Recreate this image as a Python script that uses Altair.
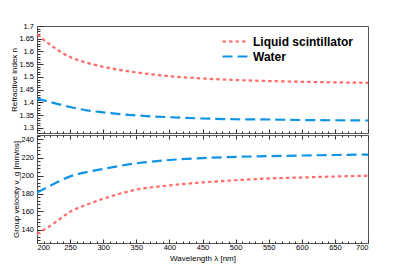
import altair as alt
import pandas as pd

# ---------------- data ----------------
wavelength = [200, 225, 250, 275, 300, 350, 400, 450, 500, 550, 600, 650, 700]
n_ls = [1.667, 1.617, 1.578, 1.556, 1.540, 1.518, 1.503, 1.494, 1.488, 1.484, 1.481, 1.479, 1.477]
n_water = [1.415, 1.398, 1.382, 1.369, 1.361, 1.349, 1.342, 1.337, 1.334, 1.333, 1.331, 1.330, 1.329]
vg_ls = [134.9, 146.5, 159.7, 167.6, 174.1, 184.3, 189.0, 192.3, 194.7, 196.7, 197.8, 198.9, 199.8]
vg_water = [181.0, 190.5, 199.0, 203.8, 207.3, 213.5, 217.2, 219.4, 220.7, 221.5, 222.2, 222.8, 223.3]
series = ["Liquid scintillator", "Water"]

# axis tick values
x_major = list(range(200, 701, 50))
x_minor = [v for v in range(200, 701, 10) if v % 50]
n_major = [round(1.30 + 0.05 * i, 2) for i in range(9)]
n_minor = [round(1.28 + 0.01 * i, 2) for i in range(43) if round(1.28 + 0.01 * i, 2) not in n_major]
v_major = [140, 160, 180, 200, 220, 240]
v_minor = [v for v in range(125, 246) if v % 4 == 0 and v % 20]

rows = []
for i, lam in enumerate(wavelength):
    rows.append({"wavelength": lam, "series": series[0], "n": n_ls[i], "vg": vg_ls[i]})
    rows.append({"wavelength": lam, "series": series[1], "n": n_water[i], "vg": vg_water[i]})
df = pd.DataFrame(rows)

FONT = "Liberation Sans"
colors = ["#ff6b6b", "#1193e6"]
dashes = [[3.5, 3], [10, 5]]

xscale = alt.Scale(domain=[200, 700], nice=False, zero=False)
nscale = alt.Scale(domain=[1.28, 1.7], nice=False, zero=False)
vscale = alt.Scale(domain=[125, 245], nice=False, zero=False)


def tick_axis(values, size, orient, **kw):
    return alt.Axis(values=values, tickSize=size, offset=-size, orient=orient,
                    domain=False, grid=False, ticks=True, tickColor="#333",
                    tickWidth=1, **kw)


legend = alt.Legend(title=None, orient="none", legendX=192, legendY=9,
                    symbolType="M-2.6,0H2.6", symbolSize=100, symbolStrokeWidth=2.2,
                    labelFont=FONT, labelFontSize=12, labelFontWeight="bold",
                    labelColor="black", labelOffset=11, rowPadding=2, padding=0)

color_top = alt.Color("series:N", scale=alt.Scale(domain=series, range=colors), legend=legend)
dash_top = alt.StrokeDash("series:N", scale=alt.Scale(domain=series, range=dashes), legend=legend)
color_bot = alt.Color("series:N", scale=alt.Scale(domain=series, range=colors), legend=None)
dash_bot = alt.StrokeDash("series:N", scale=alt.Scale(domain=series, range=dashes), legend=None)

line = dict(strokeWidth=2.2, interpolate="monotone")

# ---------------- top panel: refractive index ----------------
base = alt.Chart(df)
top_lines = base.mark_line(**line).encode(
    x=alt.X("wavelength:Q", scale=xscale,
            axis=tick_axis(x_major, 4, "bottom", labels=False, title=None)),
    y=alt.Y("n:Q", scale=nscale,
            axis=tick_axis(n_major, 6, "left", format=".3~g", labelPadding=3.5,
                           title="Refractive index n", titlePadding=0)),
    color=color_top, strokeDash=dash_top,
)
top_minor = base.mark_line(opacity=0).encode(
    x=alt.X("wavelength:Q", scale=xscale,
            axis=tick_axis(x_minor, 2, "bottom", labels=False, title=None)),
    y=alt.Y("n:Q", scale=nscale,
            axis=tick_axis(n_minor, 3, "left", labels=False, title=None)),
    detail="series:N",
)
top = alt.layer(top_lines, top_minor).resolve_axis(
    x="independent", y="independent").properties(width=331, height=107)

# ---------------- bottom panel: group velocity ----------------
bot_lines = base.mark_line(**line).encode(
    x=alt.X("wavelength:Q", scale=xscale,
            axis=tick_axis(x_major, 4, "bottom", labelPadding=0.5,
                           title="Wavelength λ [nm]", titlePadding=3)),
    y=alt.Y("vg:Q", scale=vscale,
            axis=tick_axis(v_major, 6, "left", labelPadding=3.5,
                           title="Group velocity v_g [mm/ns]", titlePadding=0)),
    color=color_bot, strokeDash=dash_bot,
)
bot_minor = base.mark_line(opacity=0).encode(
    x=alt.X("wavelength:Q", scale=xscale,
            axis=tick_axis(x_minor, 2, "bottom", labels=False, title=None)),
    y=alt.Y("vg:Q", scale=vscale,
            axis=tick_axis(v_minor, 3, "left", labels=False, title=None)),
    detail="series:N",
)
bot_top_major = base.mark_line(opacity=0).encode(
    x=alt.X("wavelength:Q", scale=xscale,
            axis=tick_axis(x_major, 4, "top", labels=False, title=None)),
    y=alt.Y("vg:Q", scale=vscale, axis=None),
    detail="series:N",
)
bot_top_minor = base.mark_line(opacity=0).encode(
    x=alt.X("wavelength:Q", scale=xscale,
            axis=tick_axis(x_minor, 2, "top", labels=False, title=None)),
    y=alt.Y("vg:Q", scale=vscale, axis=None),
    detail="series:N",
)
bottom = alt.layer(bot_lines, bot_minor, bot_top_major, bot_top_minor).resolve_axis(
    x="independent", y="independent").properties(width=331, height=108)

chart = alt.vconcat(top, bottom, spacing=0).resolve_legend(
    color="independent", strokeDash="independent"
).properties(
    padding={"left": 2, "top": 13, "right": 5, "bottom": 0}
).configure_view(
    stroke="#555", strokeWidth=1
).configure_axis(
    labelFont=FONT, titleFont=FONT, labelFontSize=7.5, titleFontSize=8,
    labelColor="black", titleColor="black", titleFontWeight="normal"
)

chart.save("out.html", embed_options={"renderer": "svg", "actions": False})
